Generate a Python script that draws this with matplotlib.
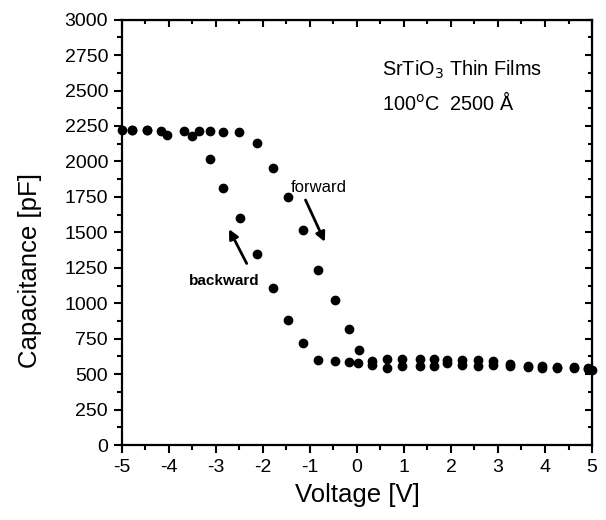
import matplotlib
matplotlib.use("Agg")
import matplotlib.pyplot as plt
from matplotlib.ticker import MultipleLocator

plt.rcParams['font.family'] = ['Liberation Sans', 'DejaVu Sans']
plt.rcParams['axes.unicode_minus'] = False

# sweep from -5 V to +5 V
forward_v = [-5.0, -4.79, -4.46, -4.16, -3.69, -3.36, -3.12, -2.85, -2.50, -2.13,
             -1.79, -1.47, -1.14, -0.83, -0.47, -0.17, 0.04, 0.32, 0.64, 0.96,
             1.35, 1.63, 1.91, 2.23, 2.57, 2.90, 3.26, 3.64, 3.94, 4.26, 4.62, 4.92]
forward_c = [2220, 2220, 2220, 2215, 2215, 2215, 2215, 2210, 2205, 2127,
             1951, 1751, 1514, 1232, 1023, 817, 667, 590, 610, 605,
             605, 605, 600, 600, 598, 595, 570, 560, 555, 550, 550, 545]

# sweep from +5 V back to -5 V
backward_v = [5.0, 4.92, 4.62, 4.26, 3.94, 3.64, 3.26, 2.90, 2.57, 2.23, 1.91,
              1.63, 1.35, 0.96, 0.64, 0.32, 0.02, -0.17, -0.47, -0.83, -1.14,
              -1.46, -1.78, -2.13, -2.49, -2.85, -3.12, -3.50, -4.04, -4.46, -4.79]
backward_c = [530, 535, 540, 540, 545, 550, 555, 565, 560, 565, 575,
              555, 555, 555, 540, 565, 577, 582, 590, 599, 723,
              882, 1104, 1345, 1600, 1815, 2019, 2178, 2190, 2220, 2220]

fig = plt.figure(figsize=(6.06, 5.2), dpi=100)
ax = fig.add_axes([0.2013, 0.1442, 0.7756, 0.818])

ax.plot(forward_v, forward_c, 'o', color='black', markersize=6, clip_on=False)
ax.plot(backward_v, backward_c, 'o', color='black', markersize=6, clip_on=False)

ax.set_xlim(-5, 5)
ax.set_ylim(0, 3000)
ax.xaxis.set_major_locator(MultipleLocator(1))
ax.xaxis.set_minor_locator(MultipleLocator(0.5))
ax.yaxis.set_major_locator(MultipleLocator(250))
ax.yaxis.set_minor_locator(MultipleLocator(125))

for s in ax.spines.values():
    s.set_linewidth(1.6)
ax.tick_params(which='both', direction='out', width=1.5, labelsize=14, top=False, right=False)
ax.tick_params(which='major', length=6, pad=4)
ax.tick_params(which='minor', length=3.5)
# inward ticks on the top and right frame
ax2 = ax.secondary_xaxis('top')
ax2.xaxis.set_major_locator(MultipleLocator(1))
ax2.xaxis.set_minor_locator(MultipleLocator(0.5))
ax2.tick_params(which='both', direction='in', width=1.5, labeltop=False)
ax2.tick_params(which='major', length=5)
ax2.tick_params(which='minor', length=3)
ay2 = ax.secondary_yaxis('right')
ay2.yaxis.set_major_locator(MultipleLocator(250))
ay2.yaxis.set_minor_locator(MultipleLocator(125))
ay2.tick_params(which='both', direction='in', width=1.5, labelright=False)
ay2.tick_params(which='major', length=5)
ay2.tick_params(which='minor', length=3)

ax.set_xlabel('Voltage [V]', fontsize=18.5, labelpad=5)
ax.set_ylabel('Capacitance [pF]', fontsize=18.5)
ax.yaxis.set_label_coords(-0.17, 0.41)

ax.text(0.53, 2648, 'SrTiO$_3$ Thin Films', fontsize=14.3, va='center', ha='left')
ax.text(0.53, 2415, '100$^{\\rm o}$C  2500 Å', fontsize=14.3, va='center', ha='left')

ax.annotate('', xy=(-0.66, 1415), xytext=(-1.12, 1746),
            arrowprops=dict(arrowstyle='-|>', color='black', lw=2, mutation_scale=14))
ax.annotate('', xy=(-2.75, 1540), xytext=(-2.32, 1263),
            arrowprops=dict(arrowstyle='-|>', color='black', lw=2, mutation_scale=14))
ax.text(-0.81, 1817, 'forward', fontsize=12, ha='center', va='center')
ax.text(-2.82, 1155, 'backward', fontsize=11, ha='center', va='center', fontweight='bold')

fig.savefig('out.png', dpi=100)
